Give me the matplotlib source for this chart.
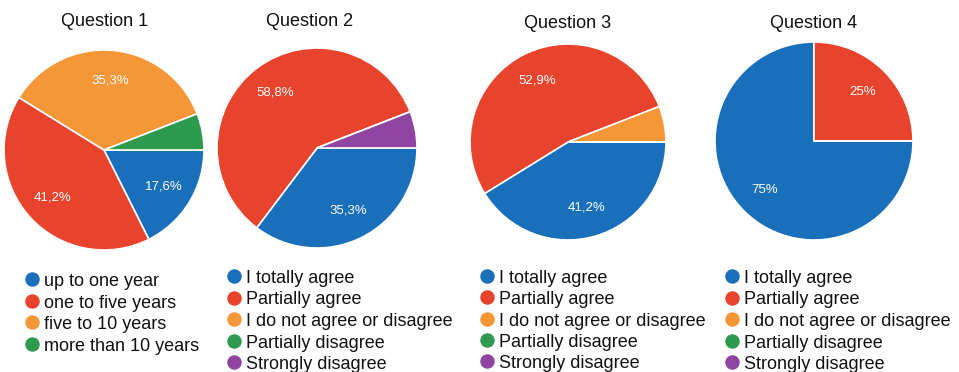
import matplotlib
matplotlib.use("Agg")
import matplotlib.pyplot as plt
from matplotlib.lines import Line2D

plt.rcParams['font.family'] = ['Liberation Sans', 'DejaVu Sans']

titles = ["Question 1", "Question 2", "Question 3", "Question 4"]
q1_labels = ["up to one year", "one to five years", "five to 10 years", "more than 10 years"]
q_labels = ["I totally agree", "Partially agree", "I do not agree or disagree",
            "Partially disagree", "Strongly disagree"]
q1_values = [17.6, 41.2, 35.3, 5.9]
q2_values = [35.3, 58.8, 0.0, 0.0, 5.9]
q3_values = [41.2, 52.9, 5.9, 0.0, 0.0]
q4_values = [75.0, 25.0, 0.0, 0.0, 0.0]
q1_colors = ["#1a6fbb", "#e8432d", "#f59637", "#2e9a4f"]
q_colors = ["#1a6fbb", "#e8432d", "#f59637", "#2e9a4f", "#8e44a0"]

W, H = 959, 372
fig = plt.figure(figsize=(W / 100, H / 100), dpi=100)

# pixel geometry: pie center x, center y, radius; title pos; legend marker x, first row y, row step
layout = [
    dict(cx=104, cy=150, r=100, title=(105, 21), mx=32, my=279, step=21.7),
    dict(cx=317, cy=148, r=100, title=(310, 21), mx=234, my=276, step=21.5),
    dict(cx=568, cy=142, r=98, title=(568, 23), mx=487, my=276, step=21.3),
    dict(cx=814, cy=141, r=99, title=(814, 23), mx=732, my=276, step=21.5),
]
data = [
    (q1_values, q1_colors, q1_labels),
    (q2_values, q_colors, q_labels),
    (q3_values, q_colors, q_labels),
    (q4_values, q_colors, q_labels),
]

def fmt(p):
    if p < 8:
        return ""
    s = f"{p:.1f}"
    if s.endswith(".0"):
        s = s[:-2]
    return s.replace(".", ",") + "%"

for title, lay, (vals, cols, labs) in zip(titles, layout, data):
    cx, cy, r = lay["cx"], lay["cy"], lay["r"]
    ax = fig.add_axes([(cx - r) / W, 1 - (cy + r) / H, 2 * r / W, 2 * r / H])
    ax.pie(vals, colors=cols, startangle=0, counterclock=False,
           autopct=fmt, pctdistance=0.7,
           wedgeprops=dict(edgecolor="white", linewidth=1.2),
           textprops=dict(color="white", fontsize=9.5))
    ax.set_xlim(-1, 1)
    ax.set_ylim(-1, 1)
    ax.set_aspect("equal")
    ax.axis("off")
    fig.text(lay["title"][0] / W, 1 - lay["title"][1] / H, title,
             ha="center", va="center", fontsize=13, color="#111111")
    for i, (c, lab) in enumerate(zip(cols, labs)):
        y = lay["my"] + i * lay["step"]
        fig.add_artist(Line2D([lay["mx"] / W], [1 - y / H], marker="o",
                              linestyle="", markersize=9.4,
                              markerfacecolor=c, markeredgecolor=c,
                              transform=fig.transFigure))
        fig.text((lay["mx"] + 12) / W, 1 - (y + 0.5) / H, lab,
                 ha="left", va="center_baseline", fontsize=13, color="#111111")

fig.savefig("out.png", dpi=100)
